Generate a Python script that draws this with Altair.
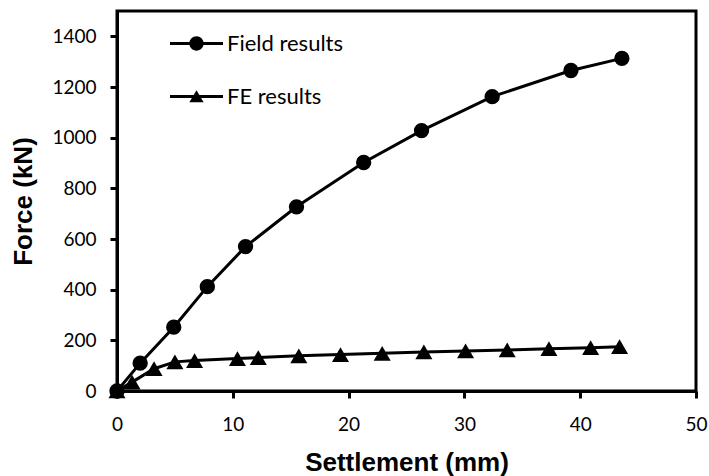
import altair as alt
import pandas as pd

# ---- data ----
series_names = ["Field results", "FE results"]

field_x = [0, 2.0, 4.9, 7.8, 11.1, 15.5, 21.3, 26.3, 32.4, 39.2, 43.6]
field_y = [0, 110, 252, 412, 570, 727, 902, 1028, 1162, 1265, 1313]

fe_x = [0, 1.3, 3.2, 5.0, 6.7, 10.4, 12.2, 15.7, 19.3, 22.9, 26.5, 30.1, 33.7, 37.3, 40.9, 43.4]
fe_y = [0, 35, 88, 115, 120, 128, 132, 139, 144, 149, 154, 158, 162, 167, 171, 175]

x_ticks = [0, 10, 20, 30, 40, 50]
y_ticks = [0, 200, 400, 600, 800, 1000, 1200, 1400]

df = pd.concat([
    pd.DataFrame({"settlement": field_x, "force": field_y, "series": series_names[0]}),
    pd.DataFrame({"settlement": fe_x, "force": fe_y, "series": series_names[1]}),
], ignore_index=True)

x_enc = alt.X(
    "settlement:Q",
    scale=alt.Scale(domain=[0, 50], nice=False),
    axis=alt.Axis(values=x_ticks, title="Settlement (mm)", titleY=79,
                  titleBaseline="alphabetic", labelPadding=17, labelFlush=False),
)
y_enc = alt.Y(
    "force:Q",
    scale=alt.Scale(domain=[0, 1500], nice=False),
    axis=alt.Axis(values=y_ticks, format="d", title="Force (kN)", titleX=-86,
                  titleBaseline="alphabetic", labelPadding=14, labelFlush=False),
)

base = alt.Chart(df)

lines = base.mark_line(color="black", strokeWidth=3).encode(
    x=x_enc, y=y_enc, detail="series:N"
)

field_points = base.transform_filter(
    alt.datum.series == series_names[0]
).mark_point(filled=True, color="black", opacity=1, shape="circle", size=235).encode(
    x=x_enc, y=y_enc
)

fe_points = base.transform_filter(
    alt.datum.series == series_names[1]
).mark_point(filled=True, color="black", opacity=1, shape="triangle-up", size=290).encode(
    x=x_enc, y=y_enc
)

# legend symbols: a short line segment with the marker on it (filled shapes, same winding)
line_part = "M-1,-0.057L1,-0.057L1,0.057L-1,0.057Z"
circle_path = line_part + "M-0.27,0A0.27,0.27,0,1,1,0.27,0A0.27,0.27,0,1,1,-0.27,0Z"
tri_path = line_part + "M0,-0.24L0.27,0.22L-0.27,0.22Z"

legend_layer = base.mark_point(filled=True, color="black", opacity=1).encode(
    x=x_enc,
    y=y_enc,
    shape=alt.Shape(
        "series:N",
        scale=alt.Scale(domain=series_names, range=[circle_path, tri_path]),
        legend=alt.Legend(
            title=None, orient="none", legendX=53, legendY=6,
            symbolSize=2809, symbolStrokeWidth=0, symbolFillColor="black",
            symbolOpacity=1,
            labelFont="Lato", labelFontSize=22, labelColor="black",
            labelOffset=4, rowPadding=15, padding=0,
        ),
    ),
).transform_filter("false")

chart = (
    alt.layer(lines, field_points, fe_points, legend_layer)
    .properties(
        width=579, height=380,
        autosize=alt.AutoSizeParams(type="none"),
        padding={"left": 117, "top": 11, "right": 13, "bottom": 85},
        background="white",
    )
    .configure_view(stroke="black", strokeWidth=3)
    .configure_axis(
        grid=False, domainColor="black", domainWidth=3,
        tickColor="black", tickWidth=3, tickSize=7,
        labelFont="Lato", labelFontSize=19, labelColor="black",
        titleFont="Liberation Sans", titleFontWeight="bold",
        titleFontSize=26, titleColor="black",
    )
)

chart.save("out.html", embed_options={"renderer": "svg", "actions": False})
